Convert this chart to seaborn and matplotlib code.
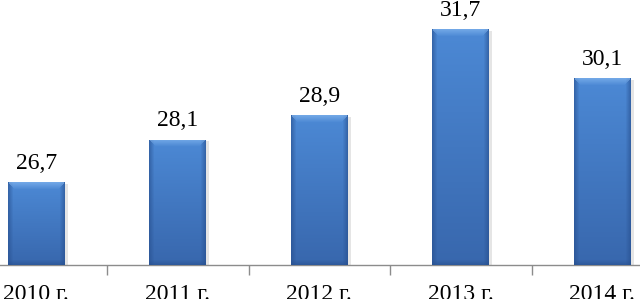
import numpy as np
import pandas as pd
import matplotlib
matplotlib.use("Agg")
import matplotlib.pyplot as plt
import seaborn as sns
from matplotlib.colors import to_rgb
from matplotlib.patches import Rectangle

years = ["2010 г.", "2011 г.", "2012 г.", "2013 г.", "2014 г."]
values = [26.7, 28.1, 28.9, 31.7, 30.1]
value_labels = ["26,7", "28,1", "28,9", "31,7", "30,1"]

sns.set_theme(style="white")
plt.rcParams["font.family"] = ["Liberation Serif", "DejaVu Serif"]

fig = plt.figure(figsize=(6.4, 2.99), dpi=100)
ax = fig.add_axes([-34.5 / 640, 34 / 299, 707.5 / 640, 265 / 299])

df = pd.DataFrame({"year": years, "value": values})
sns.barplot(data=df, x="year", y="value", ax=ax, width=0.40,
            color="#3f78c4", saturation=1, edgecolor="none", zorder=2)

ymin = 24.0
ax.set_ylim(ymin, ymin + 265 / 30.6)
ax.set_xlim(-0.5, 4.5)

for s in ["top", "right", "left"]:
    ax.spines[s].set_visible(False)
ax.spines["bottom"].set_color("#8c8c8c")
ax.spines["bottom"].set_linewidth(1.0)
ax.set_yticks([])
ax.set_xlabel("")
ax.set_ylabel("")
ax.set_xticks(range(len(years)))
ax.set_xticklabels(years, fontsize=17)
ax.set_xticks([i + 0.5 for i in range(len(years) - 1)], minor=True)
ax.tick_params(axis="x", which="major", length=0, pad=14, colors="black")
ax.tick_params(axis="x", which="minor", length=7, width=1, color="#8c8c8c",
               direction="out", bottom=True)

fig.canvas.draw()

def lerp(a, b, t):
    return np.array(a) * (1 - t) + np.array(b) * t

top_c = to_rgb("#4c89d5")
bot_c = to_rgb("#3867ad")
light = to_rgb("#86b8f0")
dark = to_rgb("#274f8e")

for p, v, lab in zip(ax.patches, values, value_labels):
    x0 = p.get_x()
    w = p.get_width()
    (px0, py0) = ax.transData.transform((x0, ymin))
    (px1, py1) = ax.transData.transform((x0 + w, v))
    nx = max(int(round(px1 - px0)), 4)
    ny = max(int(round(py1 - py0)), 4)
    img = np.zeros((ny, nx, 3))
    for r in range(ny):
        t = r / max(ny - 1, 1)
        img[r, :, :] = lerp(top_c, bot_c, t)
    bev = 5
    for c in range(bev):
        f = (bev - c) / bev
        img[:, c, :] = lerp(img[:, c, :], dark, 0.6 * f)
        img[:, nx - 1 - c, :] = lerp(img[:, nx - 1 - c, :], dark, 0.6 * f)
    tb = 7
    for r in range(tb):
        f = (tb - r) / tb
        lo, hi = max(r, 1), nx - max(r, 1)
        img[r, lo:hi, :] = lerp(img[r, lo:hi, :], light, 0.65 * f)
    bb = 5
    for r in range(bb):
        f = (bb - r) / bb
        img[ny - 1 - r, :, :] = lerp(img[ny - 1 - r, :, :], dark, 0.55 * f)
    dx = (ax.transData.inverted().transform((px0 + 3, 0))[0] - x0)
    shadow = Rectangle((x0 + dx, ymin), w, v - ymin - 0.05,
                       facecolor="#000000", alpha=0.10, edgecolor="none",
                       zorder=1)
    ax.add_patch(shadow)
    im = ax.imshow(img, extent=(x0, x0 + w, ymin, v), origin="upper",
                   aspect="auto", interpolation="bilinear", zorder=3)
    im.set_clip_path(p)
    ax.annotate(lab, (x0 + w / 2, v), xytext=(0, 6),
                textcoords="offset points", ha="center", va="bottom",
                fontsize=17, color="black", zorder=4)

ax.set_xlim(-0.5, 4.5)
ax.set_ylim(ymin, ymin + 265 / 30.6)

fig.savefig("out.png", dpi=100)
